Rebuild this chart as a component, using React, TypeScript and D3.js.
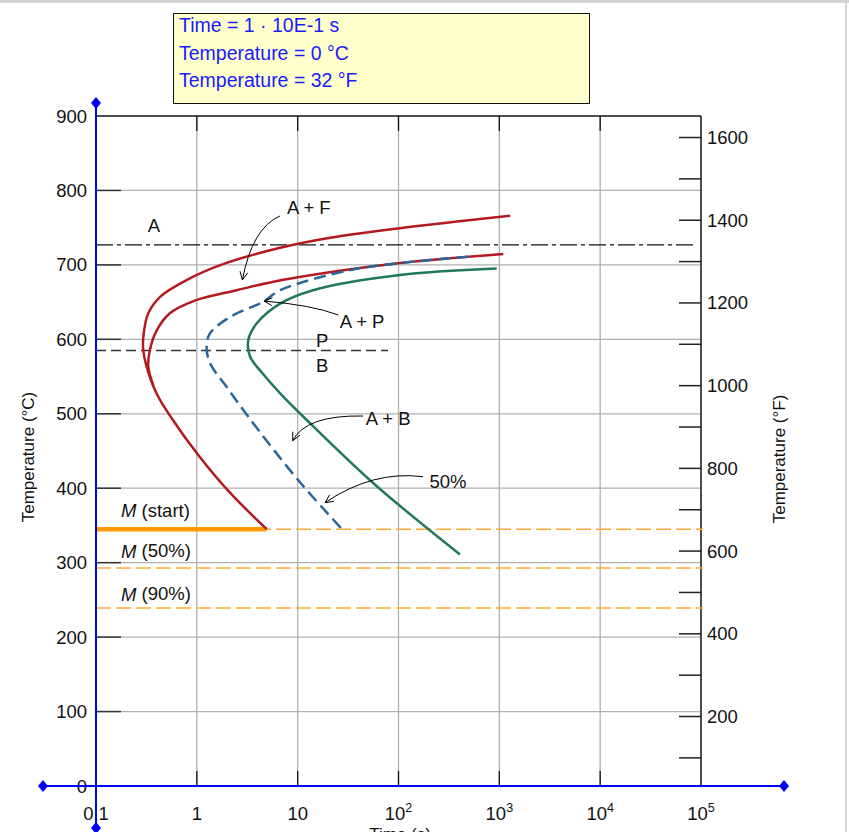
import React from 'react';
import * as d3 from 'd3';

type Pt = [number, number];

// ---------- data (time in s, temperature in °C) ----------
const timeTicks = [0.1, 1, 10, 100, 1000, 10000, 100000];
const timeTickBase = ['0.1', '1', '10', '10', '10', '10', '10'];
const timeTickExp = ['', '', '', '2', '3', '4', '5'];
const celsiusTicks = [0, 100, 200, 300, 400, 500, 600, 700, 800, 900];
const fahrenheitMinorTicks = [100, 200, 300, 400, 500, 600, 700, 800, 900, 1000, 1100, 1200, 1300, 1400, 1500, 1600];
const fahrenheitLabels = [200, 400, 600, 800, 1000, 1200, 1400, 1600];

const curveFerriteStart: Pt[] = [
  [1280, 766], [99, 749], [21, 736.5], [6.7, 723], [1.82, 701], [0.8, 680], [0.44, 658],
  [0.33, 635], [0.295, 604], [0.294, 586], [0.318, 563], [0.4, 527], [0.563, 494],
  [1.07, 442], [2.13, 394], [4.93, 345],
];
const curvePearliteStart: Pt[] = [
  [1094, 714.6], [82, 701], [7.2, 680], [2.48, 666], [1.0, 653], [0.54, 635], [0.4, 612],
  [0.343, 586], [0.33, 563], [0.37, 538],
];
const curveFiftyPercent: Pt[] = [
  [492, 711], [96, 702], [30.6, 692], [6.7, 666], [4.56, 650.6], [2.13, 630], [1.35, 608],
  [1.25, 590], [1.35, 568], [1.98, 536], [3.24, 496], [10.1, 411], [28.4, 343],
];
const curveFinish: Pt[] = [
  [942, 695], [99, 686], [14.2, 666], [6.7, 648], [3.93, 621.5], [3.24, 599], [3.37, 577],
  [4.5, 554], [6.7, 527.5], [11.4, 496], [56, 407], [407, 311],
];

const eutectoidTemp = 727;
const eutectoidEnd = 8.7e4;
const pbBoundaryTemp = 585;
const pbBoundaryEnd = 78.7;
const mStart = 345;
const m50 = 293;
const m90 = 239;
const mStartSolidEnd = 4.93;
const mLineEnd = 1.05e5;

const regionLabels = ['A', 'A + F', 'A + P', 'P', 'B', 'A + B', '50%'];
const regionLabelTime = [0.376, 12.9, 43.5, 17.5, 17.5, 79, 310];
const regionLabelTemp = [753, 777.4, 624.6, 597.8, 565.5, 493, 408.8];

const arrowStart: Pt[] = [[6.68, 765.7], [25.3, 632.7], [44.5, 497], [175, 415.5]];
const arrowCtrl: Pt[] = [[3.54, 749.6], [13.9, 646], [11.97, 498.4], [55.4, 424]];
const arrowEnd: Pt[] = [[2.83, 679.7], [4.64, 651.5], [8.93, 463.8], [18.7, 380.6]];

const mLabels = ['(start)', '(50%)', '(90%)'];
const mLabelTemp = [370.7, 315.7, 258];
const mLabelTime = 0.177;

const cursorTime = 0.1;
const cursorTemp = 0;
const infoLines = ['Time = 1 · 10E-1 s', 'Temperature = 0 °C', 'Temperature = 32 °F'];

// ---------- component ----------
export default function App() {
  const x = d3.scaleLog().domain([0.1, 1e5]).range([96, 701]);
  const y = d3.scaleLinear().domain([0, 900]).range([786, 116]);
  const yF = (f: number) => y(((f - 32) * 5) / 9);
  const font = '"Liberation Sans", Arial, sans-serif';
  const fs = 18.5;

  const line = d3
    .line<Pt>()
    .x((d) => x(d[0]))
    .y((d) => y(d[1]))
    .curve(d3.curveCatmullRom.alpha(0.5));

  const red = '#b3191e';
  const blue = '#2b6699';
  const green = '#21795a';
  const orange = '#ff9900';
  const orangeLight = '#ffaa33';

  const arrows = arrowStart.map((s, i) => {
    const c = arrowCtrl[i];
    const e = arrowEnd[i];
    const sx = x(s[0]), sy = y(s[1]);
    const cx = x(c[0]), cy = y(c[1]);
    const ex = x(e[0]), ey = y(e[1]);
    const ang = Math.atan2(ey - cy, ex - cx);
    const L = 9, a = 0.45;
    const h1 = [ex - L * Math.cos(ang - a), ey - L * Math.sin(ang - a)];
    const h2 = [ex - L * Math.cos(ang + a), ey - L * Math.sin(ang + a)];
    return (
      <g key={i} fill="none" stroke="#000" strokeWidth={1}>
        <path d={`M${sx},${sy} Q${cx},${cy} ${ex},${ey}`} />
        <path d={`M${h1[0]},${h1[1]} L${ex},${ey} L${h2[0]},${h2[1]}`} />
      </g>
    );
  });

  const cx0 = x(cursorTime);
  const cy0 = y(cursorTemp);
  const diamond = (px: number, py: number, k: string) => (
    <path key={k} d={`M${px},${py - 6} L${px + 5},${py} L${px},${py + 6} L${px - 5},${py} Z`} fill="#0000ff" />
  );

  return (
    <svg
      width={849}
      height={832}
      style={{ position: 'absolute', left: 0, top: 0, background: '#fff' }}
      fontFamily={font}
    >
      {/* frame borders of the page */}
      <rect x={0} y={0} width={849} height={3} fill="#d4d4d4" />
      <rect x={845} y={0} width={2} height={832} fill="#d4d4d4" />

      {/* gridlines */}
      {celsiusTicks.filter((t) => t > 0 && t < 900).map((t) => (
        <line key={'hg' + t} x1={x(0.1)} x2={x(1e5)} y1={y(t)} y2={y(t)} stroke="#b0b0b0" strokeWidth={1.3} />
      ))}
      {timeTicks.filter((t) => t > 0.1 && t < 1e5).map((t) => (
        <line key={'vg' + t} x1={x(t)} x2={x(t)} y1={y(900)} y2={y(0)} stroke="#b0b0b0" strokeWidth={1.3} />
      ))}

      {/* ticks */}
      {celsiusTicks.filter((t) => t > 0 && t < 900).map((t) => (
        <line key={'lt' + t} x1={x(0.1)} x2={x(0.1) + 25} y1={y(t)} y2={y(t)} stroke="#333" strokeWidth={1.5} />
      ))}
      {timeTicks.filter((t) => t > 0.1 && t < 1e5).map((t) => (
        <g key={'tt' + t}>
          <line x1={x(t)} x2={x(t)} y1={y(900)} y2={y(900) + 15} stroke="#111" strokeWidth={1.3} />
          <line x1={x(t)} x2={x(t)} y1={y(0)} y2={y(0) - 15} stroke="#111" strokeWidth={1.3} />
        </g>
      ))}
      {fahrenheitMinorTicks.map((f) => (
        <line key={'rt' + f} x1={x(1e5) - 22} x2={x(1e5)} y1={yF(f)} y2={yF(f)} stroke="#222" strokeWidth={1.5} />
      ))}

      {/* frame */}
      <line x1={x(0.1)} x2={x(1e5)} y1={y(900)} y2={y(900)} stroke="#111" strokeWidth={1.5} />
      <line x1={x(1e5)} x2={x(1e5)} y1={y(900)} y2={y(0)} stroke="#111" strokeWidth={1.5} />

      {/* reference lines */}
      <line x1={x(0.1)} x2={x(eutectoidEnd)} y1={y(eutectoidTemp)} y2={y(eutectoidTemp)} stroke="#111" strokeWidth={1.2} strokeDasharray="17,4,4,4" />
      <line x1={x(0.1)} x2={x(pbBoundaryEnd)} y1={y(pbBoundaryTemp)} y2={y(pbBoundaryTemp)} stroke="#333" strokeWidth={1.5} strokeDasharray="10,5" />

      {/* martensite lines */}
      {[mStart, m50, m90].map((m) => (
        <line key={'m' + m} x1={x(0.1)} x2={x(mLineEnd)} y1={y(m)} y2={y(m)} stroke={orangeLight} strokeWidth={1.5} strokeDasharray="15,5" />
      ))}
      <line x1={x(0.1)} x2={x(mStartSolidEnd)} y1={y(mStart)} y2={y(mStart)} stroke={orange} strokeWidth={4.5} />

      {/* transformation curves */}
      <path d={line(curveFerriteStart) || ''} fill="none" stroke={red} strokeWidth={2.5} />
      <path d={line(curvePearliteStart) || ''} fill="none" stroke={red} strokeWidth={2.5} />
      <path d={line(curveFinish) || ''} fill="none" stroke={green} strokeWidth={2.5} />
      <path d={line(curveFiftyPercent) || ''} fill="none" stroke={blue} strokeWidth={2.5} strokeDasharray="12,6" />

      {/* annotations */}
      {arrows}
      {regionLabels.map((l, i) => (
        <text key={'rl' + i} x={x(regionLabelTime[i])} y={y(regionLabelTemp[i])} textAnchor="middle" dominantBaseline="central" fontSize={fs} fill="#111">
          {l}
        </text>
      ))}
      {mLabels.map((l, i) => (
        <text key={'ml' + i} x={x(mLabelTime)} y={y(mLabelTemp[i])} dominantBaseline="central" fontSize={fs} fill="#111">
          <tspan fontStyle="italic">M</tspan> {l}
        </text>
      ))}

      {/* left tick labels */}
      {celsiusTicks.map((t) => (
        <text key={'cl' + t} x={87} y={y(t)} textAnchor="end" dominantBaseline="central" fontSize={fs} fill="#111">
          {t}
        </text>
      ))}
      {/* right tick labels */}
      {fahrenheitLabels.map((f) => (
        <text key={'fl' + f} x={x(1e5) + 6} y={yF(f)} dominantBaseline="central" fontSize={fs} fill="#111">
          {f}
        </text>
      ))}
      {/* bottom tick labels */}
      {timeTicks.map((t, i) => (
        <text key={'bl' + t} x={x(t)} y={820} textAnchor="middle" fontSize={fs} fill="#111">
          {timeTickBase[i]}
          {timeTickExp[i] && (
            <tspan dy={-8} fontSize={12.5}>
              {timeTickExp[i]}
            </tspan>
          )}
        </text>
      ))}

      {/* axis titles */}
      <text x={400} y={840} textAnchor="middle" fontSize={17} fill="#111">Time (s)</text>
      <text transform="translate(28,457) rotate(-90)" textAnchor="middle" dominantBaseline="central" fontSize={17} fill="#111">
        Temperature (°C)
      </text>
      <text transform="translate(779,459) rotate(-90)" textAnchor="middle" dominantBaseline="central" fontSize={17} fill="#111">
        Temperature (°F)
      </text>

      {/* cursor axes */}
      <line x1={cx0} x2={cx0} y1={103} y2={828} stroke="#0000ff" strokeWidth={2} />
      <line x1={43} x2={784} y1={cy0} y2={cy0} stroke="#0000ff" strokeWidth={2} />
      {diamond(cx0, 103, 'd1')}
      {diamond(cx0, 828, 'd2')}
      {diamond(43, cy0, 'd3')}
      {diamond(784, cy0, 'd4')}

      {/* info box */}
      <rect x={173.5} y={13.5} width={416} height={90} fill="#ffffcc" stroke="#111" strokeWidth={1} />
      {infoLines.map((l, i) => (
        <text key={'il' + i} x={179} y={32 + i * 27.7} fontSize={19.5} fill="#1a1aff">
          {l}
        </text>
      ))}
    </svg>
  );
}
